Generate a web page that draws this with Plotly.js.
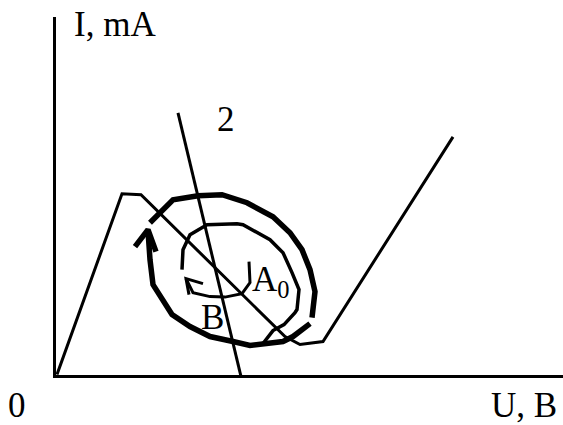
<!DOCTYPE html>
<html>
<head>
<meta charset="utf-8">
<script src="https://cdn.plot.ly/plotly-3.0.1.min.js"></script>
<style>
  html, body { margin: 0; padding: 0; background: #fff; }
  #chart { width: 563px; height: 425px; }
</style>
</head>
<body>
<div id="chart"></div>
<script>
// Current-voltage characteristic (N-shaped) in arbitrary units
var curveU = [3, 68, 87, 168, 231, 246, 269, 399];
var curveI = [2, 183, 182, 102, 40, 32, 35, 240];

// Load line "2"
var loadU = [124, 187];
var loadI = [264, 0];

// Outer (thick) phase trajectory, upper/right part
var outerAU = [96, 119, 144, 168, 193, 219, 236, 248, 256, 261, 258];
var outerAI = [154, 177, 181, 182, 174, 160, 144, 127, 107, 85, 59];

// Outer (thick) phase trajectory, lower/left part ending in the arrow
var outerBU = [256, 239, 229, 209, 196, 179, 156, 136, 118, 99, 96, 94];
var outerBI = [53, 40, 35, 32, 31, 35, 40, 50, 62, 92, 117, 146];
var outerHeadU = [81, 94, 102];
var outerHeadI = [130, 147, 125];

// Inner spiral turn
var innerU = [128, 129, 136, 153, 183, 189, 216, 229, 238, 245, 243, 241, 230, 219, 209];
var innerI = [107, 127, 142, 152, 153, 152, 137, 124, 104, 87, 67, 64, 52, 46, 33];

// Small curl around the equilibrium point A0
var curlU = [195, 196, 188, 171, 156, 139, 132];
var curlI = [115, 94, 83, 79.5, 80, 84, 98];
var curlHeadU = [149, 132, 135];
var curlHeadI = [93, 98, 82];

// Point labels
var labelText = ['2', 'B', 'A<sub>0</sub>'];
var labelU = [172, 158, 196];
var labelI = [257, 59, 95];
var labelAnchor = ['center', 'center', 'left'];

var serif = 'Liberation Serif, Times New Roman, serif';
var textSize = 35;

function seg(u, i, w) {
  return {
    x: u, y: i, type: 'scatter', mode: 'lines',
    line: { color: '#000', width: w, shape: 'linear' },
    hoverinfo: 'skip', showlegend: false
  };
}

var traces = [
  seg(curveU, curveI, 3),
  seg(loadU, loadI, 3),
  seg(outerAU, outerAI, 5.5),
  seg(outerBU, outerBI, 5.5),
  seg(outerHeadU, outerHeadI, 5.5),
  seg(innerU, innerI, 3.5),
  seg(curlU, curlI, 3),
  seg(curlHeadU, curlHeadI, 3)
];

var annotations = labelText.map(function (t, k) {
  return {
    text: t, x: labelU[k], y: labelI[k], xref: 'x', yref: 'y',
    xanchor: labelAnchor[k], yanchor: 'middle', showarrow: false,
    font: { family: serif, size: textSize, color: '#000' }
  };
});

// Axis captions placed around the plotting area
annotations.push({
  text: 'I, mA', xref: 'paper', yref: 'paper', x: 0.032, y: 0.979,
  xanchor: 'left', yanchor: 'middle', showarrow: false,
  font: { family: serif, size: textSize, color: '#000' }
});
annotations.push({
  text: '0', xref: 'paper', yref: 'paper', x: -0.077, y: -0.085,
  xanchor: 'center', yanchor: 'middle', showarrow: false,
  font: { family: serif, size: textSize, color: '#000' }
});
annotations.push({
  text: 'U, B', xref: 'paper', yref: 'paper', x: 0.923, y: -0.085,
  xanchor: 'center', yanchor: 'middle', showarrow: false,
  font: { family: serif, size: textSize, color: '#000' }
});

var axisStyle = {
  showline: true, linecolor: '#000', linewidth: 3,
  showgrid: false, zeroline: false, showticklabels: false,
  ticks: '', mirror: false, fixedrange: true
};

var layout = {
  width: 563, height: 425,
  margin: { l: 56, r: 0, t: 17, b: 49.5, pad: 0 },
  paper_bgcolor: '#fff', plot_bgcolor: '#fff',
  xaxis: Object.assign({ range: [2, 509] }, axisStyle),
  yaxis: Object.assign({ range: [1.5, 360] }, axisStyle),
  annotations: annotations,
  showlegend: false
};

Plotly.newPlot('chart', traces, layout, { displayModeBar: false, staticPlot: true });
</script>
</body>
</html>
